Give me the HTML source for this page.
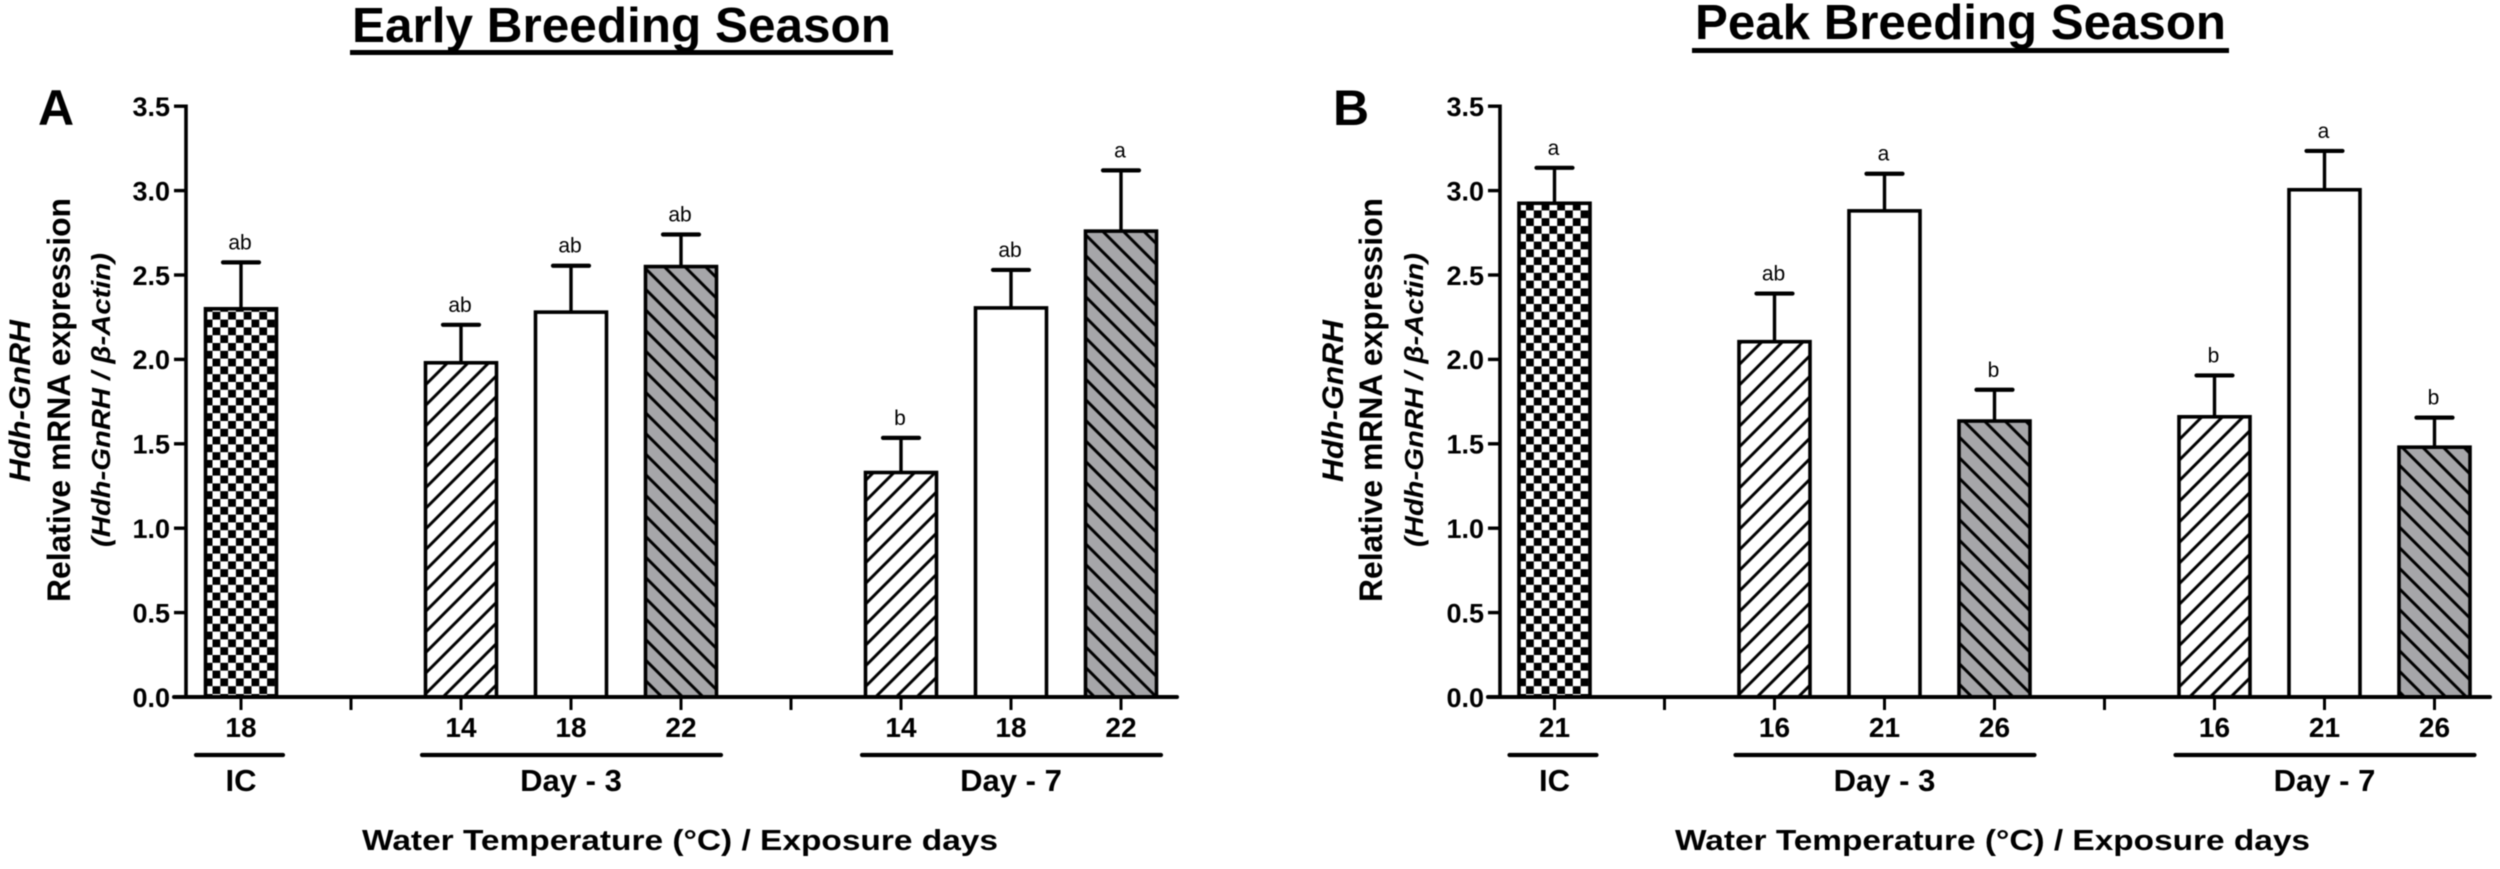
<!DOCTYPE html>
<html lang="en">
<head>
<meta charset="utf-8">
<title>Hdh-GnRH expression: early and peak breeding season</title>
<style>
html,body{margin:0;padding:0;background:#fff;width:2500px;height:869px;overflow:hidden}
svg{display:block;filter:blur(.55px)}
text{font-family:"Liberation Sans",Arial,sans-serif;fill:#000}
</style>
</head>
<body>
<svg id="figure" xmlns="http://www.w3.org/2000/svg" width="2500" height="869" viewBox="0 0 2500 869">
  <rect width="2500" height="869" fill="#fff"/>
</svg>
<script>
// ---- chart data ----
var yTickValues = [0, 0.5, 1, 1.5, 2, 2.5, 3, 3.5];
var yTickLabels = ['0.0', '0.5', '1.0', '1.5', '2.0', '2.5', '3.0', '3.5'];
var barStyles = ['checker', null, 'up', 'white', 'down', null, 'up', 'white', 'down'];
var groupLabels = ['IC', 'Day - 3', 'Day - 7'];
var groupFirst = [0, 2, 6];
var groupLast = [0, 4, 8];

var earlyCategories = ['18', '', '14', '18', '22', '', '14', '18', '22'];
var earlyMeans = [2.30, null, 1.98, 2.28, 2.55, null, 1.33, 2.305, 2.76];
var earlyUpper = [2.575, null, 2.205, 2.555, 2.74, null, 1.535, 2.53, 3.12];
var earlyLetters = ['ab', '', 'ab', 'ab', 'ab', '', 'b', 'ab', 'a'];

var peakCategories = ['21', '', '16', '21', '26', '', '16', '21', '26'];
var peakMeans = [2.925, null, 2.105, 2.88, 1.635, null, 1.66, 3.005, 1.48];
var peakUpper = [3.135, null, 2.39, 3.1, 1.82, null, 1.905, 3.235, 1.655];
var peakLetters = ['a', '', 'ab', 'a', 'b', '', 'b', 'a', 'b'];

// ---- helpers ----
var NS = 'http://www.w3.org/2000/svg';
var svg = document.getElementById('figure');
function mk(tag, attrs, parent, txt) {
  var el = document.createElementNS(NS, tag);
  for (var k in attrs) { el.setAttribute(k, attrs[k]); }
  if (txt !== undefined) { el.textContent = txt; }
  (parent || svg).appendChild(el);
  return el;
}

var Y0 = 697;
var PX_PER_UNIT = 168.8;
function yScale(v) { return Y0 - v * PX_PER_UNIT; }

var defs = mk('defs', {});
function makePatterns(id, ox, upX, downX) {
  var c = 7.8, P = 20.6;
  var ck = mk('pattern', {id: 'checker-' + id, patternUnits: 'userSpaceOnUse', x: ox, y: 686.2, width: 2 * c, height: 2 * c}, defs);
  mk('rect', {width: 2 * c, height: 2 * c, fill: '#fff'}, ck);
  mk('rect', {width: c, height: c, fill: '#000'}, ck);
  mk('rect', {x: c, y: c, width: c, height: c, fill: '#000'}, ck);
  var up = mk('pattern', {id: 'up-' + id, patternUnits: 'userSpaceOnUse', x: upX, y: Y0, width: P, height: P}, defs);
  mk('rect', {width: P, height: P, fill: '#fff'}, up);
  mk('path', {d: 'M-5 5L5 -5M-5 ' + (P + 5) + 'L' + (P + 5) + ' -5M' + (P - 5) + ' ' + (P + 5) + 'L' + (P + 5) + ' ' + (P - 5), stroke: '#000', 'stroke-width': 2.9, fill: 'none'}, up);
  var dn = mk('pattern', {id: 'down-' + id, patternUnits: 'userSpaceOnUse', x: downX, y: Y0, width: P, height: P}, defs);
  mk('rect', {width: P, height: P, fill: '#a6a6a9'}, dn);
  mk('path', {d: 'M-5 -5L' + (P + 5) + ' ' + (P + 5) + 'M-5 ' + (P - 5) + 'L5 ' + (P + 5) + 'M' + (P - 5) + ' -5L' + (P + 5) + ' 5', stroke: '#000', 'stroke-width': 2.9, fill: 'none'}, dn);
}

function drawPanel(cfg) {
  var xScale = function (i) { return cfg.x0 + i * 110; };
  var BAR = 71;
  makePatterns(cfg.id, cfg.x0 - 28.5, cfg.upX, cfg.downX);
  var g = mk('g', {});
  
  

  // bars and error bars
  cfg.means.forEach(function (m, i) {
    if (m === null) { return; }
    var cx = xScale(i), top = yScale(m), capY = yScale(cfg.upper[i]);
    var stem = mk('line', {x1: cx, x2: cx, y1: top, y2: capY, stroke: '#000', 'stroke-width': 3.4}, g);
    
    
    var capW = 36;
    var cap = mk('line', {x1: cx - capW / 2, x2: cx + capW / 2, y1: capY, y2: capY, stroke: '#000', 'stroke-width': 4.2, 'stroke-linecap': 'round'}, g);
    
    
    var fill = barStyles[i] === 'white' ? '#fff' : 'url(#' + barStyles[i] + '-' + cfg.id + ')';
    var bar = mk('rect', {x: cx - BAR / 2, y: top, width: BAR, height: Y0 - top, fill: fill, stroke: '#000', 'stroke-width': 3.6}, g);
    
    
    var letter = mk('text', {x: cx - 1, y: capY - 13, 'text-anchor': 'middle', 'font-size': 21}, g, cfg.letters[i]);
    
    
  });

  // y axis
  var yAxis = mk('line', {x1: cfg.axisX, x2: cfg.axisX, y1: yScale(3.5) - 1.7, y2: Y0, stroke: '#000', 'stroke-width': 3.6}, g);
  
  
  yTickValues.forEach(function (v, i) {
    var y = yScale(v);
    var tick = mk('line', {x1: cfg.axisX - 12, x2: cfg.axisX, y1: y, y2: y, stroke: '#000', 'stroke-width': 3.4}, g);
    
    
    var lab = mk('text', {x: cfg.axisX - 16, y: y + 9.8, 'text-anchor': 'end', 'font-size': 27, 'font-weight': 700}, g, yTickLabels[i]);
    
    
  });

  // x axis
  var xAxis = mk('line', {x1: cfg.axisX - 12, x2: cfg.axisEnd, y1: Y0, y2: Y0, stroke: '#000', 'stroke-width': 4, 'stroke-linecap': 'round'}, g);
  
  
  cfg.categories.forEach(function (c, i) {
    var x = xScale(i);
    var tick = mk('line', {x1: x, x2: x, y1: Y0, y2: Y0 + 13, stroke: '#000', 'stroke-width': 3}, g);
    
    
    if (c) {
      var lab = mk('text', {x: x, y: 737, 'text-anchor': 'middle', 'font-size': 28, 'font-weight': 700}, g, c);
      
      
    }
  });

  // group brackets
  groupLabels.forEach(function (label, i) {
    var isIC = groupFirst[i] === groupLast[i];
    var x1 = xScale(groupFirst[i]) - 37 - (isIC ? 8 : 2);
    var x2 = xScale(groupLast[i]) + 37 + (isIC ? 5 : 3);
    var line = mk('line', {x1: x1, x2: x2, y1: 755, y2: 755, stroke: '#000', 'stroke-width': 4.2, 'stroke-linecap': 'round'}, g);
    
    
    var cx = (xScale(groupFirst[i]) + xScale(groupLast[i])) / 2;
    var t = mk('text', {x: cx, y: 791, 'text-anchor': 'middle', 'font-size': 31, 'font-weight': 700}, g, label);
    
    
  });

  // x-axis title
  var xt = mk('text', {x: cfg.xTitleX, y: 850, 'font-size': 29, 'font-weight': 700, textLength: cfg.xTitleW, lengthAdjust: 'spacingAndGlyphs'}, g, 'Water Temperature (\u00B0C) / Exposure days');
  
  

  // y-axis title lines
  var l1 = mk('text', {x: 0, y: 0, transform: 'translate(' + cfg.yt1 + ' 482) rotate(-90)', 'font-size': 30, 'font-weight': 700, 'font-style': 'italic', textLength: 162, lengthAdjust: 'spacingAndGlyphs'}, g, 'Hdh-GnRH');
  
  
  var l2 = mk('text', {x: 0, y: 0, transform: 'translate(' + cfg.yt2 + ' 602) rotate(-90)', 'font-size': 32, 'font-weight': 700, textLength: 404, lengthAdjust: 'spacingAndGlyphs'}, g, 'Relative mRNA expression');
  
  
  var l3 = mk('text', {x: 0, y: 0, transform: 'translate(' + cfg.yt3 + ' 547) rotate(-90)', 'font-size': 26, 'font-weight': 700, 'font-style': 'italic', textLength: 294, lengthAdjust: 'spacingAndGlyphs'}, g, '(Hdh-GnRH / \u03B2-Actin)');
  
  

  // panel letter
  var pl = mk('text', {x: cfg.letterX, y: 125, 'font-size': 50, 'font-weight': 700}, g, cfg.letter);
  
  

  // title
  var tt = mk('text', {x: cfg.titleX, y: cfg.titleY, 'font-size': 49, 'font-weight': 700, textLength: cfg.titleW, lengthAdjust: 'spacingAndGlyphs'}, g, cfg.title);
  
  
  var ul = mk('rect', {x: cfg.ulX, y: cfg.ulY, width: cfg.ulW, height: 5, fill: '#000'}, g);
  
  
}

drawPanel({
  id: 'early', letter: 'A', title: 'Early Breeding Season',
  categories: earlyCategories, means: earlyMeans, upper: earlyUpper, letters: earlyLetters,
  x0: 241, axisX: 186, axisEnd: 1177, upX: 443, downX: 662,
  xTitleX: 362, xTitleW: 636, yt1: 30, yt2: 70, yt3: 110,
  letterX: 38, titleX: 352, titleY: 42, titleW: 539, ulX: 350, ulY: 50, ulW: 543
});
drawPanel({
  id: 'peak', letter: 'B', title: 'Peak Breeding Season',
  categories: peakCategories, means: peakMeans, upper: peakUpper, letters: peakLetters,
  x0: 1554.5, axisX: 1500, axisEnd: 2490, upX: 1757, downX: 1972,
  xTitleX: 1675, xTitleW: 635, yt1: 1343, yt2: 1382, yt3: 1423,
  letterX: 1333, titleX: 1695, titleY: 39, titleW: 531, ulX: 1692, ulY: 48, ulW: 537
});
</script>
</body>
</html>
